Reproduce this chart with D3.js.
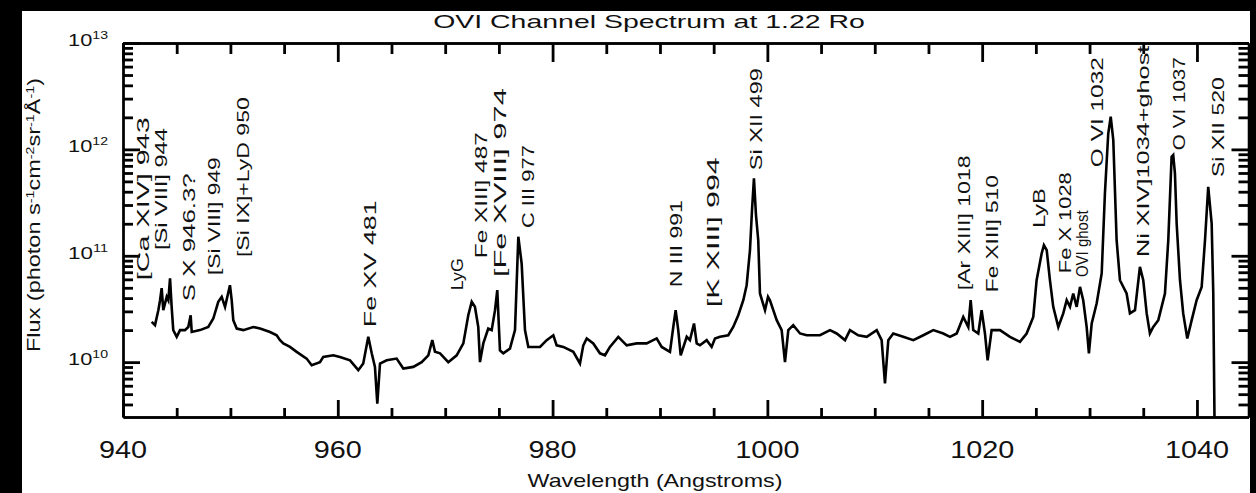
<!DOCTYPE html>
<html><head><meta charset="utf-8">
<script src="https://cdn.jsdelivr.net/npm/d3@7"></script>
<style>
html,body{margin:0;padding:0;background:#000;}
svg{display:block;}
text{font-family:"Liberation Sans",Arial,sans-serif;fill:#111;}
</style></head><body>
<svg id="chart" width="1256" height="493"></svg>
<script>
// ---------------- DATA ----------------
const wavelength = [942.67,942.98,943.29,943.45,943.60,943.75,944.07,944.22,944.38,944.53,944.68,945.00,945.31,945.77,946.08,946.30,946.40,947.17,947.94,948.41,948.87,949.19,949.50,949.96,950.12,950.27,950.59,951.20,952.13,952.76,953.69,954.31,954.62,954.93,955.55,956.17,957.10,957.57,958.34,958.65,959.58,960.20,961.14,961.91,962.37,962.84,963.16,963.46,963.68,963.93,964.55,965.48,966.10,967.03,967.81,968.43,968.80,969.05,969.52,970.29,971.07,971.69,972.15,972.47,972.77,973.08,973.24,973.55,974.01,974.33,974.64,974.85,975.10,975.41,976.03,976.50,976.81,977.12,977.43,977.74,978.83,979.45,980.07,980.38,981.00,981.93,982.55,982.86,983.18,983.79,984.41,984.88,985.34,986.12,986.90,987.83,988.76,989.69,990.16,990.93,991.24,991.46,991.70,991.93,992.49,992.79,993.17,993.42,993.72,994.35,994.81,995.12,995.59,996.36,996.82,997.29,997.76,998.07,998.38,998.57,998.75,998.94,999.15,999.31,999.78,1000.06,1000.24,1000.87,1001.33,1001.64,1001.95,1002.41,1003.04,1003.66,1004.90,1005.83,1006.45,1007.23,1007.69,1008.46,1009.25,1010.18,1010.64,1010.95,1011.26,1011.72,1012.65,1013.59,1014.52,1015.45,1016.38,1017.00,1017.63,1018.24,1018.71,1018.93,1019.17,1019.64,1019.95,1020.26,1020.51,1020.88,1021.66,1022.59,1023.52,1024.14,1024.76,1025.07,1025.54,1025.75,1026.01,1026.31,1026.62,1027.09,1027.55,1027.87,1028.18,1028.48,1028.80,1029.11,1029.41,1029.73,1029.94,1030.20,1030.66,1031.13,1031.43,1031.74,1031.97,1032.21,1032.52,1032.83,1033.45,1033.76,1034.23,1034.69,1035.00,1035.32,1035.62,1035.93,1036.40,1037.02,1037.33,1037.64,1037.79,1037.95,1038.11,1038.42,1038.72,1039.10,1039.51,1039.97,1040.44,1040.75,1041.05,1041.37,1041.52,1041.68];

const flux = [2.39e10,2.23e10,3.08e10,3.82e10,4.96e10,3.08e10,4.11e10,3.82e10,6.12e10,3.31e10,2.00e10,1.73e10,2.00e10,2.00e10,2.14e10,2.76e10,1.92e10,2.00e10,2.14e10,2.57e10,3.69e10,4.11e10,3.31e10,5.29e10,3.82e10,2.48e10,2.07e10,2.00e10,2.14e10,2.07e10,1.92e10,1.79e10,1.61e10,1.50e10,1.39e10,1.25e10,1.08e10,9.36e9,1.00e10,1.12e10,1.16e10,1.12e10,1.04e10,8.40e9,9.71e9,1.73e10,1.21e10,9.02e9,4.08e9,9.71e9,1.04e10,1.08e10,8.71e9,9.02e9,1.00e10,1.16e10,1.61e10,1.25e10,1.21e10,1.00e10,1.16e10,1.50e10,2.76e10,3.69e10,3.31e10,2.14e10,1.00e10,1.50e10,2.07e10,2.00e10,3.08e10,4.75e10,1.29e10,1.21e10,1.34e10,2.00e10,1.51e11,8.46e10,2.00e10,1.39e10,1.39e10,1.61e10,1.79e10,1.44e10,1.39e10,1.25e10,9.71e9,1.44e10,1.67e10,1.50e10,1.21e10,1.16e10,1.39e10,1.73e10,1.44e10,1.50e10,1.50e10,1.67e10,1.39e10,1.25e10,2.14e10,3.08e10,2.00e10,1.16e10,1.73e10,1.61e10,2.31e10,1.50e10,1.44e10,1.61e10,1.39e10,1.67e10,1.73e10,1.79e10,2.14e10,2.76e10,3.82e10,5.29e10,1.13e11,2.69e11,5.34e11,2.41e11,1.40e11,4.42e10,3.08e10,4.11e10,3.82e10,2.48e10,2.00e10,1.00e10,2.00e10,2.23e10,1.86e10,1.79e10,1.79e10,2.00e10,1.86e10,1.61e10,2.00e10,1.79e10,1.73e10,2.00e10,1.61e10,6.30e9,1.61e10,1.86e10,1.73e10,1.61e10,1.79e10,2.00e10,1.86e10,1.73e10,1.86e10,2.66e10,2.14e10,3.82e10,2.00e10,1.86e10,3.08e10,1.86e10,1.04e10,2.00e10,2.00e10,1.73e10,1.55e10,1.86e10,2.66e10,5.89e10,1.05e11,1.26e11,1.13e11,5.89e10,3.31e10,2.14e10,2.87e10,3.82e10,3.31e10,4.42e10,3.31e10,5.10e10,3.82e10,2.14e10,1.21e10,2.31e10,3.56e10,6.82e10,3.85e11,1.41e12,2.03e12,1.22e12,1.40e11,5.89e10,4.42e10,2.87e10,3.08e10,7.87e10,5.89e10,2.87e10,1.86e10,2.14e10,2.48e10,4.42e10,1.40e11,8.52e11,8.84e11,5.95e11,2.01e11,5.89e10,2.87e10,1.67e10,2.48e10,3.82e10,5.10e10,1.40e11,4.45e11,2.01e11,4.42e10,1.0e9];

const lineLabels = ["[Ca XIV]  943","[Si VIII] 944","S X 946.3?","[Si VIII] 949","[Si IX]+LyD 950","Fe XV  481","LyG","Fe XIII] 487","[Fe XVIII] 974","C III 977","N III 991","[K  XIII]  994","Si XII 499","[Ar XIII] 1018","Fe XIII] 510","LyB","Fe X 1028","OVI ghost","O VI 1032","Ni XIV]1034+ghost","O VI 1037","Si XII 520"];
const lineLabelWavelength = [941.86,943.54,946.15,948.47,951.17,963.0,971.1,973.33,975.10,977.71,991.49,994.93,998.94,1018.31,1020.91,1025.29,1027.71,1029.29,1030.69,1034.97,1038.32,1041.95];
const lineLabelBaseFlux = [5.89e10,1.13e11,3.74e10,6.58e10,9.71e10,2.13e10,4.74e10,9.49e10,6.30e10,1.82e11,5.07e10,3.28e10,6.38e11,4.74e10,4.55e10,1.82e11,6.86e10,6.30e10,6.81e11,9.71e10,9.84e11,5.49e11];

const xMajorTicks = [940,960,980,1000,1020,1040];
const xMinorTicks = [945,950,955,965,970,975,985,990,995,1005,1010,1015,1025,1030,1035];
const xTickLabels = ["940","960","980","1000","1020","1040"];
const yMajorTicks = [1e10,1e11,1e12,1e13];
const yMinorTicks = [4e9,5e9,6e9,7e9,8e9,9e9,2e10,3e10,4e10,5e10,6e10,7e10,8e10,9e10,2e11,3e11,4e11,5e11,6e11,7e11,8e11,9e11,2e12,3e12,4e12,5e12,6e12,7e12,8e12,9e12];
const yTickExponents = ["10","11","12","13"];

const titleText = "OVI Channel Spectrum at 1.22 Ro";
const xAxisTitle = "Wavelength (Angstroms)";

// ---------------- LAYOUT ----------------
const labelLengthPx = [163,122,128,118,160,127,32,126,189,83,87,150,102,135,117,40,101,67,110,212,93,100];
const W = 1256, H = 493;
const plot = {l:123, r:1248.5, t:43, b:417};

const svg = d3.select("#chart");
svg.append("rect").attr("width",W).attr("height",H).attr("fill","#000");
svg.append("rect").attr("x",22).attr("y",11).attr("width",1228).attr("height",H-11).attr("fill","#fff");

const x = d3.scaleLinear().domain([940,1044.8]).range([plot.l, plot.r]);
const y = d3.scaleLog().domain([3.05e9,1e13]).range([plot.b, plot.t]);

function fit(sel, target){
  sel.each(function(){
    const w = this.getBBox().width;
    if (w>0) d3.select(this).attr("transform", `scale(${target/w},1)`);
  });
}

// spectrum
svg.append("clipPath").attr("id","clip").append("rect")
  .attr("x",plot.l).attr("y",plot.t).attr("width",plot.r-plot.l).attr("height",plot.b-plot.t);
const pts = wavelength.map((w,i)=>[w, flux[i]]);
svg.append("path").datum(pts)
  .attr("clip-path","url(#clip)")
  .attr("fill","none").attr("stroke","#000").attr("stroke-width",2.6)
  .attr("d", d3.line().x(d=>x(d[0])).y(d=>y(d[1])));

// axes with inward ticks
function styleAxis(g){
  g.selectAll("path.domain").attr("stroke","#000").attr("stroke-width",2.3);
  g.selectAll(".tick line").attr("stroke","#000").attr("stroke-width",2.8);
  g.selectAll(".tick text").remove();
}
const noLabel = () => "";
svg.append("g").attr("transform",`translate(0,${plot.b})`)
  .call(d3.axisBottom(x).tickValues(xMajorTicks).tickSizeInner(-17).tickSizeOuter(0).tickFormat(noLabel)).call(styleAxis);
svg.append("g").attr("transform",`translate(0,${plot.b})`)
  .call(d3.axisBottom(x).tickValues(xMinorTicks).tickSizeInner(-9).tickSizeOuter(0).tickFormat(noLabel)).call(styleAxis);
svg.append("g").attr("transform",`translate(0,${plot.t})`)
  .call(d3.axisTop(x).tickValues(xMajorTicks).tickSizeInner(-19).tickSizeOuter(0).tickFormat(noLabel)).call(styleAxis);
svg.append("g").attr("transform",`translate(0,${plot.t})`)
  .call(d3.axisTop(x).tickValues(xMinorTicks).tickSizeInner(-11).tickSizeOuter(0).tickFormat(noLabel)).call(styleAxis);
svg.append("g").attr("transform",`translate(${plot.l},0)`)
  .call(d3.axisLeft(y).tickValues(yMajorTicks).tickSizeInner(-17).tickSizeOuter(0).tickFormat(noLabel)).call(styleAxis);
svg.append("g").attr("transform",`translate(${plot.l},0)`)
  .call(d3.axisLeft(y).tickValues(yMinorTicks).tickSizeInner(-10).tickSizeOuter(0).tickFormat(noLabel)).call(styleAxis);
svg.append("g").attr("transform",`translate(${plot.r},0)`)
  .call(d3.axisRight(y).tickValues(yMajorTicks).tickSizeInner(-17).tickSizeOuter(0).tickFormat(noLabel)).call(styleAxis);
svg.append("g").attr("transform",`translate(${plot.r},0)`)
  .call(d3.axisRight(y).tickValues(yMinorTicks).tickSizeInner(-10).tickSizeOuter(0).tickFormat(noLabel)).call(styleAxis);

// x tick labels
xMajorTicks.forEach((v,i)=>{
  const g = svg.append("g").attr("transform",`translate(${x(v)},458)`);
  g.append("text").attr("text-anchor","middle").attr("font-size",24).attr("fill","#222")
    .attr("transform","scale(1.2,1)").text(xTickLabels[i]);
});
// y tick labels
yMajorTicks.forEach((v,i)=>{
  const g = svg.append("g").attr("transform",`translate(108,${y(v)+3})`);
  const t = g.append("text").attr("text-anchor","end").attr("font-size",17).attr("fill","#222");
  t.append("tspan").text("10");
  t.append("tspan").attr("font-size",11).attr("dy",-7).text(yTickExponents[i]);
  fit(t, 40);
});

// title
{
  const g = svg.append("g").attr("transform","translate(649,28)");
  const t = g.append("text").attr("text-anchor","middle").attr("font-size",18).attr("fill","#222").text(titleText);
  fit(t, 432);
}
// x axis title
{
  const g = svg.append("g").attr("transform","translate(655,487)");
  const t = g.append("text").attr("text-anchor","middle").attr("font-size",18).attr("fill","#222").text(xAxisTitle);
  fit(t, 255);
}
// y axis title
{
  const g = svg.append("g").attr("transform","translate(34,215) rotate(-90)");
  const t = g.append("text").attr("text-anchor","middle").attr("font-size",18).attr("fill","#222").attr("dy","0.35em");
  const parts = [["Flux (photon s",0],["-1",1],["cm",0],["-2",1],["sr",0],["-1",1],["\u00C5",0],["-1",1],[")",0]];
  parts.forEach(([s,sup])=>{
    const ts = t.append("tspan").text(s);
    if (sup) ts.attr("font-size",11).attr("baseline-shift","super");
  });
  fit(t, 274);
}

// line identification labels
lineLabels.forEach((s,i)=>{
  const g = svg.append("g").attr("transform",`translate(${x(lineLabelWavelength[i])},${y(lineLabelBaseFlux[i])}) rotate(-90)`);
  const t = g.append("text").attr("font-size",17).attr("fill","#222").attr("dy","0.35em").text(s);
  fit(t, labelLengthPx[i]);
});
</script>
</body></html>
